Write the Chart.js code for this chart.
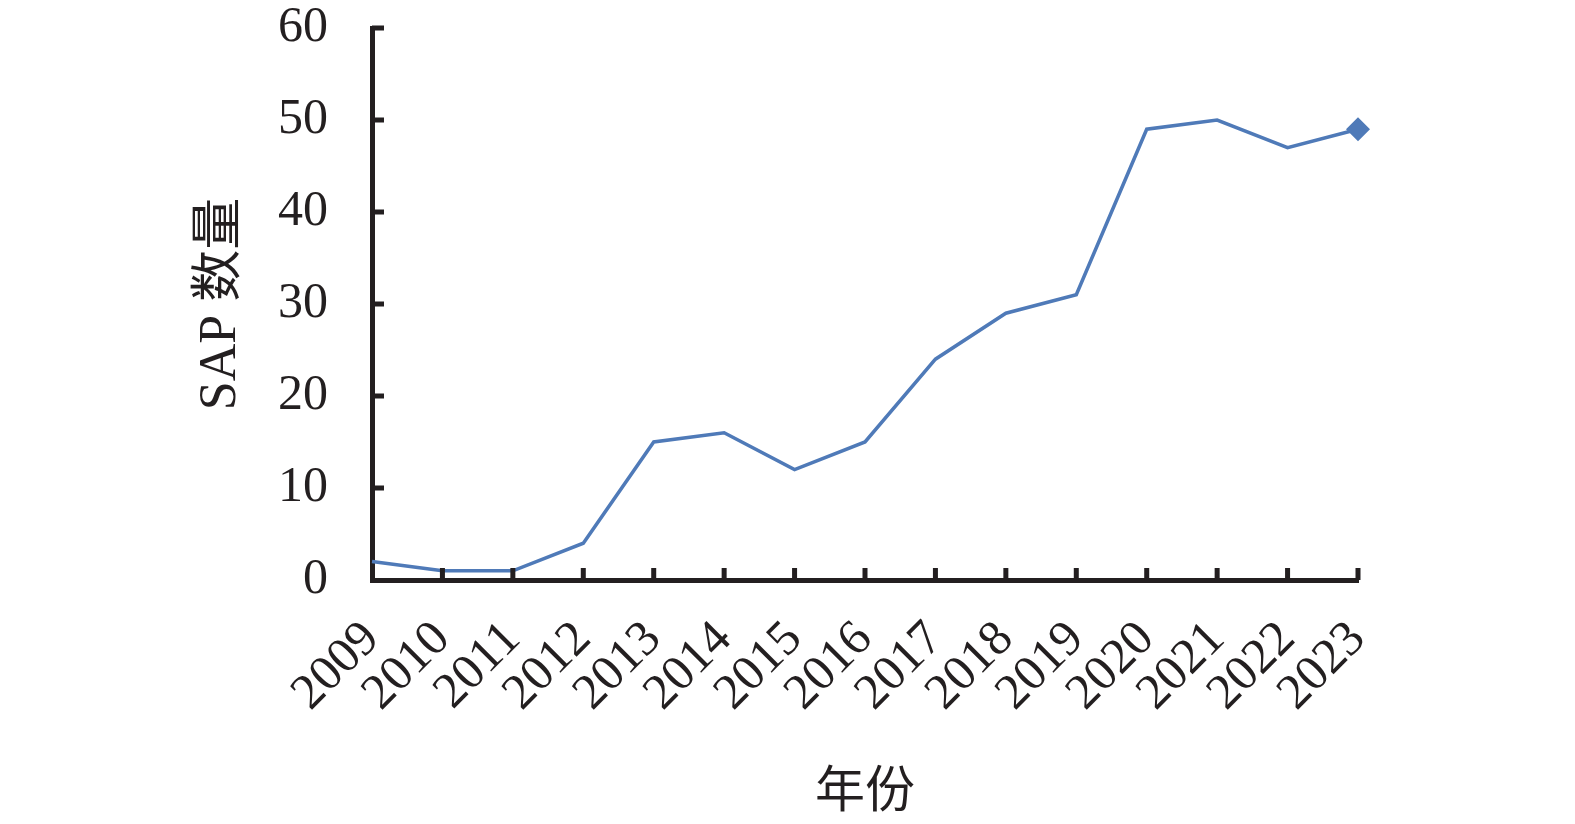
<!DOCTYPE html>
<html>
<head>
<meta charset="utf-8">
<script src="https://cdn.jsdelivr.net/npm/chart.js@4"></script>
<style>
  html, body { margin: 0; padding: 0; background: #fff; }
  #wrap { width: 1575px; height: 824px; }
</style>
</head>
<body>
<div id="wrap"><canvas id="chart"></canvas></div>
<script>
var years = ['2009', '2010', '2011', '2012', '2013', '2014', '2015', '2016', '2017', '2018', '2019', '2020', '2021', '2022', '2023'];
var sapCounts = [2, 1, 1, 4, 15, 16, 12, 15, 24, 29, 31, 49, 50, 47, 49];
var yTicks = [0, 10, 20, 30, 40, 50, 60];

var ink = '#231f20';
var lineColor = '#4f7ab8';
var serif = '"Liberation Serif", "Times New Roman", serif';
var cjk = '"Liberation Serif", "Noto Sans CJK SC", serif';

// only the last point gets a diamond marker
var radii = sapCounts.map(function (v, i) { return i === sapCounts.length - 1 ? 12 : 0; });

// tick marks drawn inward, from the scale positions
var inwardTicks = {
    id: 'inwardTicks',
    afterDatasetsDraw: function (chart) {
        var ctx = chart.ctx;
        var x = chart.scales.x, y = chart.scales.y;
        var left = chart.chartArea.left, bottom = chart.chartArea.bottom;
        ctx.save();
        ctx.strokeStyle = ink;
        ctx.lineWidth = 5;
        ctx.beginPath();
        yTicks.forEach(function (t) {
            if (t === 0) return;
            var py = y.getPixelForValue(t);
            ctx.moveTo(left, py);
            ctx.lineTo(left + 12, py);
        });
        years.forEach(function (lab, i) {
            if (i === 0) return;
            var px = x.getPixelForValue(i);
            ctx.moveTo(px, bottom);
            ctx.lineTo(px, bottom - 12);
        });
        ctx.stroke();
        ctx.restore();
    }
};

new Chart(document.getElementById('chart').getContext('2d'), {
    type: 'line',
    data: {
        labels: years,
        datasets: [{
            label: 'SAP',
            data: sapCounts,
            borderColor: lineColor,
            backgroundColor: lineColor,
            borderWidth: 3.5,
            pointRadius: radii,
            pointHoverRadius: radii,
            pointStyle: 'rectRot',
            pointBorderWidth: 0,
            tension: 0,
            clip: false
        }]
    },
    options: {
        responsive: true,
        maintainAspectRatio: false,
        animation: false,
        events: [],
        layout: { padding: { left: 190, right: 217, top: 28, bottom: 0 } },
        plugins: { legend: { display: false }, tooltip: { enabled: false } },
        scales: {
            x: {
                offset: false,
                grid: { display: false, drawTicks: false },
                border: { display: true, color: ink, width: 5 },
                ticks: {
                    color: ink,
                    font: { family: serif, size: 50 },
                    maxRotation: 45,
                    minRotation: 45,
                    padding: 30,
                    autoSkip: false
                },
                title: {
                    display: true,
                    text: '年份',
                    color: ink,
                    font: { family: cjk, size: 50 },
                    padding: 0
                },
                afterFit: function (s) { s.height = 824 - 580; }
            },
            y: {
                min: 0,
                max: 60,
                grid: { display: false, drawTicks: false },
                border: { display: true, color: ink, width: 5 },
                ticks: {
                    stepSize: 10,
                    color: ink,
                    font: { family: serif, size: 50 },
                    padding: 44
                },
                title: {
                    display: true,
                    text: 'SAP 数量',
                    color: ink,
                    font: { family: cjk, size: 52 },
                    padding: 0
                },
                afterFit: function (s) {
                    s.width = 372 - 190;
                    s.paddingTop = 0;
                    s.paddingBottom = 0;
                }
            }
        }
    },
    plugins: [inwardTicks]
});
</script>
</body>
</html>
